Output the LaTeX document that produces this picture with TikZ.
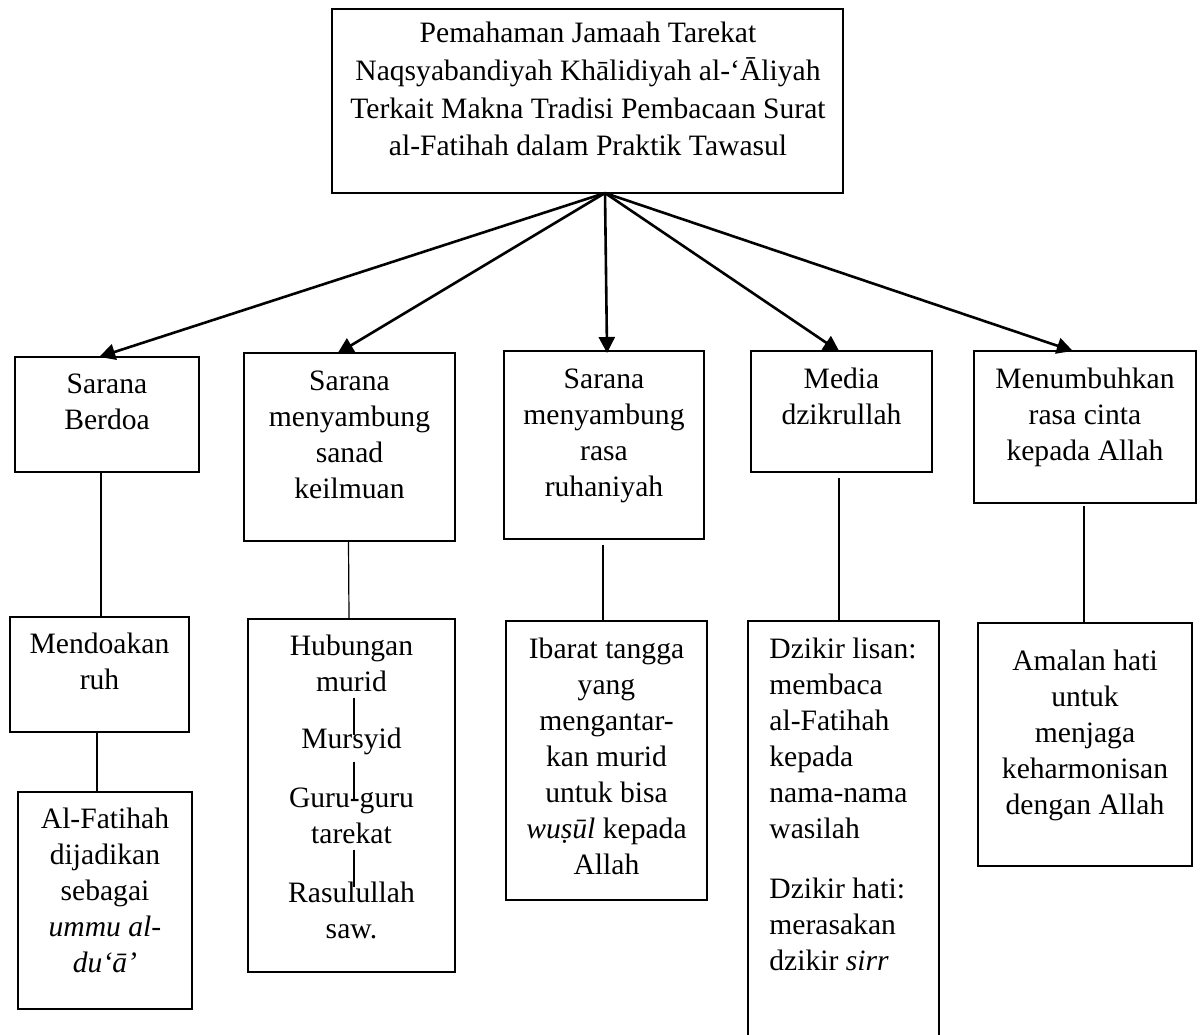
\documentclass[tikz,border=0pt]{standalone}
\usepackage{fontspec}
\setmainfont{Liberation Serif}
\usetikzlibrary{arrows.meta,fit}

\begin{document}
\begin{tikzpicture}[x=0.5pt, y=-0.5pt,
    box/.style={draw=black, line width=1pt, inner sep=0pt},
    arrow/.style={draw=black, line width=1.3pt, shorten >=-1.5pt,
        -{Triangle[length=8pt, width=8pt]}},
    stem/.style={draw=black, line width=0.6pt},
    box text/.style={align=center, inner sep=0pt, anchor=north,
        font=\fontsize{14.8}{18}\selectfont}
]
    \path[use as bounding box] (0,0) rectangle (1203,1034);

    % The title box and the point the arrows leave from.
    \node[box, fit={(332,9) (843,193)}] (title) {};
    \node[box text, font=\fontsize{14.8}{18.8}\selectfont] (title text) at (588,22)
        {Pemahaman Jamaah Tarekat\\Naqsyabandiyah Khālidiyah al-‘Āliyah\\
         Terkait Makna Tradisi Pembacaan Surat\\al-Fatihah dalam Praktik Tawasul};
    \coordinate (hub) at (605,193);

    % The five meanings.
    \node[box, fit={(15,357) (199,472)}] (berdoa) {};
    \node[box, fit={(244,353) (455,541)}] (sanad) {};
    \node[box, fit={(504,351) (704,539)}] (ruhaniyah) {};
    \node[box, fit={(751,351) (932,472)}] (dzikrullah) {};
    \node[box, fit={(974,351) (1196,503)}] (cinta) {};

    \node[box text] (berdoa text) at (107,373) {Sarana\\Berdoa};
    \node[box text] (sanad text) at (349.5,370) {Sarana\\menyambung\\sanad\\keilmuan};
    \node[box text] (ruhaniyah text) at (604,368) {Sarana\\menyambung\\rasa\\ruhaniyah};
    \node[box text] (dzikrullah text) at (841.5,368) {Media\\dzikrullah};
    \node[box text] (cinta text) at (1085,368) {Menumbuhkan\\rasa cinta\\kepada Allah};

    \draw[arrow] (hub) -- ([xshift=-2.5pt]berdoa.north);
    \draw[arrow] (hub) -- ([xshift=-4.75pt]sanad.north);
    \draw[arrow] (hub) -- ([xshift=1.5pt]ruhaniyah.north);
    \draw[arrow] (hub) -- ([xshift=-2.25pt]dzikrullah.north);
    \draw[arrow] (hub) -- ([xshift=-7.5pt]cinta.north);

    % The details below each meaning.
    \node[box, fit={(10,617) (189,732)}] (ruh) {};
    \node[box, fit={(18,792) (192,1009)}] (ummu) {};
    \node[box, fit={(248,619) (455,972)}] (hubungan) {};
    \node[box, fit={(506,621) (707,900)}] (tangga) {};
    \node[box, fit={(748,621) (939,1040)}] (lisan) {};
    \node[box, line width=1.4pt, fit={(978,623) (1192,866)}] (amalan) {};

    \node[box text] (ruh text) at (99.5,633) {Mendoakan\\ruh};
    \node[box text] (ummu text) at (105,808)
        {Al-Fatihah\\dijadikan\\sebagai\\\textit{ummu al-}\\\textit{du‘ā’}};
    \node[box text] (murid) at (351.5,635) {Hubungan\\murid};
    \node[box text] (mursyid) at (351.5,727.5) {Mursyid};
    \node[box text] (guru) at (351.5,787) {Guru-guru\\tarekat};
    \node[box text] (rasul) at (351.5,881.5) {Rasulullah\\saw.};
    \node[box text] (tangga text) at (606.5,637.5)
        {Ibarat tangga\\yang\\mengantar-\\kan murid\\untuk bisa\\\textit{wuṣūl} kepada\\Allah};
    \node[box text, align=left, anchor=north west] (lisan text) at (769,637.5)
        {Dzikir lisan:\\membaca\\al-Fatihah\\kepada\\nama-nama\\wasilah\\[12pt]
         Dzikir hati:\\merasakan\\dzikir \textit{sirr}};
    \node[box text] (amalan text) at (1085,650)
        {Amalan hati\\untuk\\menjaga\\keharmonisan\\dengan Allah};

    \draw[stem] ([xshift=-3pt]berdoa.south) -- ([xshift=0.75pt]ruh.north);
    \draw[stem] ([xshift=-1.25pt]ruh.south) -- ([xshift=-4pt]ummu.north);
    \draw[stem] ([xshift=-0.5pt]sanad.south) -- ([xshift=-1.25pt]hubungan.north);
    \draw[stem, shorten <=2.5pt] ([xshift=-0.5pt]ruhaniyah.south) -- ([xshift=-1.75pt]tangga.north);
    \draw[stem, shorten <=2.5pt] ([xshift=-1.25pt]dzikrullah.south) -- ([xshift=-2.25pt]lisan.north);
    \draw[stem, shorten <=1pt] ([xshift=-0.5pt]cinta.south) -- ([xshift=-0.5pt]amalan.north);

    % The chain inside the sanad box.
    \draw[stem] ([xshift=1.25pt, yshift=-2.5pt]murid.south) -- ([xshift=1.25pt, yshift=-3.75pt]mursyid.north);
    \draw[stem] ([xshift=1.25pt, yshift=-3.25pt]mursyid.south) -- ([xshift=1.25pt, yshift=-6.5pt]guru.north);
    \draw[stem] ([xshift=1.25pt, yshift=-3pt]guru.south) -- ([xshift=1.25pt, yshift=-2.75pt]rasul.north);
\end{tikzpicture}
\end{document}
